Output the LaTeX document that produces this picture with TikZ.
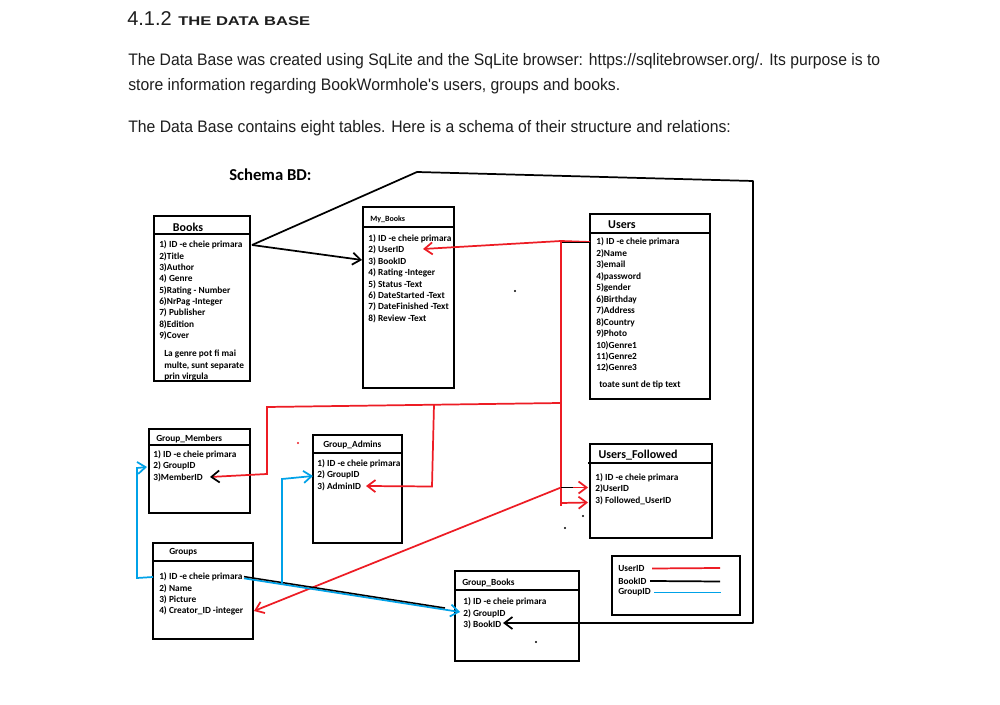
\documentclass[tikz,border=0pt]{standalone}
\usepackage{fontspec}
\usepackage{graphicx}
\setmainfont{Liberation Sans}[Ligatures=TeXOff]
\newfontfamily\tabfont{Carlito}
\usetikzlibrary{arrows.meta}
\definecolor{pred}{RGB}{237,28,36}
\definecolor{pblue}{RGB}{0,162,232}
\definecolor{txt}{RGB}{30,30,30}
\begin{document}
\begin{tikzpicture}[x=0.75pt,y=-0.75pt,
  row/.style={anchor=west,inner sep=0pt,font=\tabfont\bfseries\fontsize{7}{8}\selectfont},
  ttl/.style={inner sep=0pt,font=\tabfont\bfseries\fontsize{9}{10}\selectfont},
  sttl/.style={anchor=west,inner sep=0pt,font=\tabfont\bfseries\fontsize{7}{8}\selectfont},
  box/.style={draw=black,line width=1.4pt},
  hline/.style={draw=black,line width=1.2pt},
  blk/.style={draw=black,line width=1.3pt},
  redl/.style={draw=pred,line width=1.3pt},
  bluel/.style={draw=pblue,line width=1.3pt},
  arr/.style={-{Straight Barb[length=6pt,width=9pt]}},
  body/.style={anchor=west,inner sep=0pt,text=txt},
  dot/.style={fill=black,draw=none}
]
\fill[white] (0,0) rectangle (1000,705);
\useasboundingbox (0,0) rectangle (1000,705);

% ---------- header text ----------
\node[body] (h1) at (127,18.5) {\fontsize{15}{17}\selectfont 4.1.2};
\node[body] (h2) at (178,21) {\resizebox{99pt}{\height}{\fontsize{9.5}{11}\selectfont\bfseries THE DATA BASE}};
\node[body] (p1) at (128,61) {\resizebox{564pt}{\height}{\fontsize{12.5}{14}\selectfont The Data Base was created using SqLite and the SqLite browser: https://sqlitebrowser.org/. Its purpose is to}};
\node[body] (p2) at (128,86) {\resizebox{369pt}{\height}{\fontsize{12.5}{14}\selectfont store information regarding BookWormhole's users, groups and books.}};
\node[body] (p3) at (128,128) {\resizebox{452pt}{\height}{\fontsize{12.5}{14}\selectfont The Data Base contains eight tables. Here is a schema of their structure and relations:}};

\node[anchor=west,inner sep=0pt,font=\tabfont\bfseries\fontsize{12.5}{14}\selectfont] (schema) at (229,175) {Schema BD:};

% ---------- Books ----------
\draw[box] (154,216) rectangle (250,381);
\draw[hline] (154,234) -- (250,234);
\node[ttl] (books) at (188,227) {Books};
\node[row] (bk1) at (159,245) {1) ID -e cheie primara};
\node[row] (bk2) at (159,256.5) {2)Title};
\node[row] (bk3) at (159,268) {3)Author};
\node[row] (bk4) at (159,279) {4) Genre};
\node[row] (bk5) at (159,290.5) {5)Rating - Number};
\node[row] (bk6) at (159,302) {6)NrPag -Integer};
\node[row] (bk7) at (159,313) {7) Publisher};
\node[row] (bk8) at (159,324.5) {8)Edition};
\node[row] (bk9) at (159,336) {9)Cover};
\node[row] (bkn1) at (164,354) {La genre pot fi mai};
\node[row] (bkn2) at (164,365.5) {multe, sunt separate};
\node[row] (bkn3) at (164,377) {prin virgula};
\draw[box] (154,381) -- (250,381);

% ---------- My_Books ----------
\draw[box] (363,207) rectangle (454,388);
\draw[hline] (363,227) -- (454,227);
\node[anchor=west,inner sep=0pt,font=\tabfont\bfseries\fontsize{6}{7}\selectfont] (mybooks) at (370,219) {My\_Books};
\node[row] (mb1) at (368,239) {1) ID -e cheie primara};
\node[row] (mb2) at (368,250) {2) UserID};
\node[row] (mb3) at (368,261.5) {3) BookID};
\node[row] (mb4) at (368,273) {4) Rating -Integer};
\node[row] (mb5) at (368,284.5) {5) Status -Text};
\node[row] (mb6) at (368,296) {6) DateStarted -Text};
\node[row] (mb7) at (368,307) {7) DateFinished -Text};
\node[row] (mb8) at (368,318.5) {8) Review -Text};

% ---------- Users ----------
\draw[box] (590,214) rectangle (710,399);
\draw[hline] (590,233) -- (710,233);
\node[ttl] (users) at (622,225) {Users};
\node[row] (us1) at (596,242) {1) ID -e cheie primara};
\node[row] (us2) at (596,254) {2)Name};
\node[row] (us3) at (596,265) {3)email};
\node[row] (us4) at (596,277) {4)password};
\node[row] (us5) at (596,288) {5)gender};
\node[row] (us6) at (596,300) {6)Birthday};
\node[row] (us7) at (596,311) {7)Address};
\node[row] (us8) at (596,322.5) {8)Country};
\node[row] (us9) at (596,334) {9)Photo};
\node[row] (us10) at (596,345.5) {10)Genre1};
\node[row] (us11) at (596,357) {11)Genre2};
\node[row] (us12) at (596,368) {12)Genre3};
\node[row] (usn) at (599,385) {toate sunt de tip text};

% ---------- Group_Members ----------
\draw[box] (149,429) rectangle (250,513);
\draw[hline] (149,445) -- (250,445);
\node[sttl] (gmembers) at (156,439) {Group\_Members};
\node[row] (gm1) at (153,454.5) {1) ID -e cheie primara};
\node[row] (gm2) at (153,466) {2) GroupID};
\node[row] (gm3) at (153,477.5) {3)MemberID};

% ---------- Group_Admins ----------
\draw[box] (313,435) rectangle (402,543);
\draw[hline] (313,453) -- (402,453);
\node[sttl] (gadmins) at (323,445) {Group\_Admins};
\node[row] (ga1) at (317,463.5) {1) ID -e cheie primara};
\node[row] (ga2) at (317,475) {2) GroupID};
\node[row] (ga3) at (317,487) {3) AdminID};
\draw[box] (402,435) -- (402,543);

% ---------- Groups ----------
\draw[box] (153,543) rectangle (253,639);
\draw[hline] (153,561) -- (253,561);
\node[sttl] (groups) at (169,552) {Groups};
\node[row] (gr1) at (159,577) {1) ID -e cheie primara};
\node[row] (gr2) at (159,588.5) {2) Name};
\node[row] (gr3) at (159,600) {3) Picture};
\node[row] (gr4) at (159,611) {4) Creator\_ID -integer};

% ---------- Users_Followed ----------
\draw[box] (590,444) rectangle (712,538);
\draw[hline] (588,463) -- (712,463);
\node[ttl] (ufollowed) at (638,455.5) {Users\_Followed};
\node[row] (uf1) at (595,478) {1) ID -e cheie primara};
\node[row] (uf2) at (595,489) {2)UserID};
\node[row] (uf3) at (595,500.5) {3) Followed\_UserID};

% ---------- Group_Books ----------
\draw[box] (455,571) rectangle (579,661);
\draw[hline] (455,590) -- (579,590);
\node[sttl] (gbooks) at (462,583) {Group\_Books};
\node[row] (gb1) at (463,602) {1) ID -e cheie primara};
\node[row] (gb2) at (463,613.5) {2) GroupID};
\node[row] (gb3) at (463,624.5) {3) BookID};

% ---------- Legend ----------
\draw[box] (612,556) rectangle (740,615);
\node[row] (lg1) at (618,569) {UserID};
\node[row] (lg2) at (618,581) {BookID};
\node[row] (lg3) at (618,592.5) {GroupID};
\coordinate (lr1) at (652,568.5); \coordinate (lr2) at (720,568);
\coordinate (lk1) at (650,581); \coordinate (lk2) at (720,581.5);
\coordinate (lb1) at (654,592.5); \coordinate (lb2) at (721,592.5);
\draw[redl] (lr1) -- (lr2);
\draw[blk] (lk1) -- (lk2);
\draw[bluel] (lb1) -- (lb2);

% ---------- coordinates ----------
\coordinate (k1) at (417,172);
\coordinate (k2) at (753,181);
\coordinate (k3) at (753,623);
\coordinate (tGB3) at (503,623);
\coordinate (tMB3) at (362,260);
\coordinate (r1) at (561,241);
\coordinate (r0) at (590,242.5);
\coordinate (tMB2) at (423,249);
\coordinate (r3) at (561,487.5);
\coordinate (r4) at (561,503);
\coordinate (r4b) at (561,506);
\coordinate (tUF2) at (588,487.5);
\coordinate (tUF3) at (588,502.5);
\coordinate (tGR4) at (254,611);
\coordinate (r5) at (561,403);
\coordinate (r6) at (267,407);
\coordinate (r7) at (267,474);
\coordinate (tGM3) at (210,477);
\coordinate (r8) at (434,404.5);
\coordinate (r9) at (432,486.5);
\coordinate (tGA3) at (366,486);
\coordinate (b1) at (137,578);
\coordinate (b2) at (137,468);
\coordinate (tGM2) at (147,467);
\coordinate (tGB2) at (460,612);
\coordinate (bk) at (445,608);
\coordinate (b3) at (282,583.3);
\coordinate (b4) at (282,479);
\coordinate (tGA2) at (313,476);

% ---------- BookID (black) ----------
\draw[blk,arr,line join=round] ([xshift=7pt]bk1.east) -- (k1) -- (k2) -- (k3) -- (tGB3);
\draw[blk,arr] ([xshift=7pt]bk1.east) -- (tMB3);

% ---------- UserID (red) ----------
\draw[redl,arr] ([xshift=-4.5pt]us1.west) -- (r1) -- (tMB2);
\draw[blk,line width=1pt] (r1) ++(0,1.5) -- (r0);
\draw[redl] (r1) -- (r4b);
\draw[redl,arr] (r4) -- (tUF3);
\draw[redl,arr] (r3) -- (tUF2);
\draw[blk,line width=1pt] (r3) -- ++(12,0);
\draw[redl,arr] (r3) -- (tGR4);
\draw[redl,-{Straight Barb[length=6pt,width=9pt,color=black]}] (r5) -- (r6) -- (r7) -- (tGM3);
\draw[redl,arr] (r8) -- (r9) -- (tGA3);

% ---------- GroupID (blue) ----------
\draw[bluel,arr] ([xshift=-4.5pt]gr1.west) -- (b1) -- (b2) -- (tGM2);
\draw[bluel,arr] ([xshift=1pt,yshift=-1pt]gr1.east) -- (tGB2);
\draw[blk,line width=1.1pt] ([xshift=1pt,yshift=0.3pt]gr1.east) -- (bk);
\draw[bluel,arr] (b3) -- (b4) -- (tGA2);

% ---------- stray dots ----------
\fill[black] (515,291) circle (1.2);
\fill[pred] (298,443) circle (1.2);
\fill[black] (583,516) circle (1.1);
\fill[black] (565,528) circle (1.1);
\fill[black] (536,642) circle (1.1);
\end{tikzpicture}
\end{document}
